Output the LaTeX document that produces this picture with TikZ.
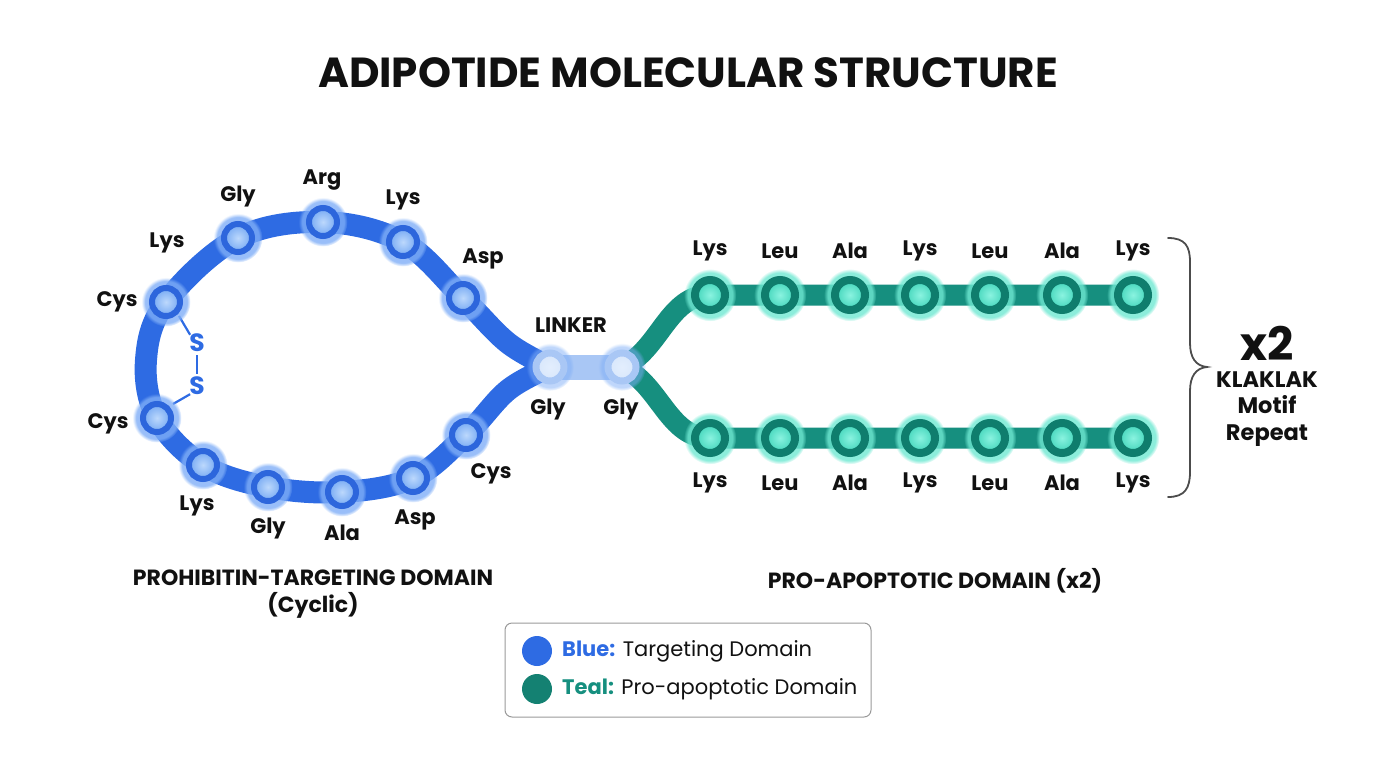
\documentclass[tikz,border=0pt]{standalone}
\usepackage{fontspec}
\setmainfont{Poppins}
\usetikzlibrary{shadows,calc}
\definecolor{bluec}{HTML}{2E6BE3}
\definecolor{bluering}{HTML}{2D66DC}
\definecolor{bluein}{HTML}{74A8F3}
\definecolor{blueinc}{HTML}{BCD8FC}
\definecolor{blueglow}{HTML}{7FAEF7}
\definecolor{linkc}{HTML}{A9C7F5}
\definecolor{linkin}{HTML}{E3EEFD}
\definecolor{tealc}{HTML}{168F7F}
\definecolor{tealring}{HTML}{0F7D6D}
\definecolor{tealin}{HTML}{3ED3B8}
\definecolor{tealinc}{HTML}{8AF3E0}
\definecolor{tealglow}{HTML}{6FE8D2}
\definecolor{ink}{HTML}{111111}
\begin{document}
\begin{tikzpicture}[x=1pt,y=-1pt,
  lbl/.style={font=\fontsize{21}{22}\selectfont\bfseries, text=ink, inner sep=0pt},
  bbead/.style={circle, minimum size=28pt, inner sep=0pt, draw=bluering, line width=6pt,
    inner color=blueinc, outer color=bluein,
    circular glow={fill=blueglow, shadow scale=1.75, opacity=0.8}},
  lbead/.style={circle, minimum size=28pt, inner sep=0pt, draw=linkc, line width=7pt,
    inner color=linkin, outer color=linkin!80!linkc,
    circular glow={fill=blueglow, shadow scale=1.7, opacity=0.5}},
  tbead/.style={circle, minimum size=30pt, inner sep=0pt, draw=tealring, line width=8pt,
    inner color=tealinc, outer color=tealin,
    circular glow={fill=tealglow, shadow scale=1.75, opacity=0.8}},
  bchain/.style={draw=bluec, line width=22pt, line cap=round, line join=round},
  tchain/.style={draw=tealc, line width=21pt, line cap=round},
  dom/.style={font=\fontsize{22}{27}\selectfont\bfseries, text=ink, align=center, inner sep=0pt},
  ssym/.style={font=\fontsize{25}{26}\selectfont\bfseries, text=bluec, inner sep=0pt},
  ssline/.style={draw=bluec, line width=2.2pt},
  legtext/.style={font=\fontsize{21}{24}\selectfont, text=ink, anchor=west, inner sep=0pt}
]
\useasboundingbox (0,0) rectangle (1376,768);

% title
\node[font=\fontsize{42}{48}\selectfont\bfseries, text=ink] (title) at (688,73) {ADIPOTIDE MOLECULAR STRUCTURE};

% coordinates for loop beads
\coordinate (pA1) at (463,298);
\coordinate (pL1) at (403,242);
\coordinate (pR) at (323,222);
\coordinate (pG1) at (238,238);
\coordinate (pC1) at (166,302);
\coordinate (pleft) at (146,360);
\coordinate (pC2) at (157,418);
\coordinate (pL2) at (203,465);
\coordinate (pG2) at (268,487);
\coordinate (pAl) at (342,492);
\coordinate (pA2) at (413,478);
\coordinate (pC3) at (466,435);
\coordinate (hup) at (508,343);
\coordinate (hdn) at (508,390);
\coordinate (pK1) at (550,367);
\coordinate (pK2) at (622,367);

% blue loop chain
\draw[bchain] plot[smooth, tension=0.6] coordinates {(pK1) (hup) (pA1) (pL1) (pR) (pG1) (pC1) (pleft) (pC2) (pL2) (pG2) (pAl) (pA2) (pC3) (hdn) (pK1)};

% teal rows
\foreach \i/\x in {1/710,2/780,3/850,4/920,5/990,6/1062,7/1133}{
  \coordinate (tu\i) at (\x,295);
  \coordinate (td\i) at (\x,438);
}
\draw[tchain] (pK2) .. controls (660,350) and (668,295) .. (tu1) -- (tu7);
\draw[tchain] (pK2) .. controls (660,384) and (668,438) .. (td1) -- (td7);

% linker
\draw[draw=linkc, line width=25pt] (pK1) -- (pK2);

% S-S bridge
\node[ssym] (s1) at (197,343) {S};
\node[ssym] (s2) at (197,386) {S};
\draw[ssline] ($(s1.south)+(0,3)$) -- ($(s2.north)+(0,-3)$);
\draw[ssline] (179,316) -- ($(s1.north west)+(1,1)$);
\draw[ssline] ($(s2.south west)+(1,-1)$) -- (173,404);

% beads
\node[bbead] (bA1) at (pA1) {};
\node[bbead] (bL1) at (pL1) {};
\node[bbead] (bR) at (pR) {};
\node[bbead] (bG1) at (pG1) {};
\node[bbead] (bC1) at (pC1) {};
\node[bbead] (bC2) at (pC2) {};
\node[bbead] (bL2) at (pL2) {};
\node[bbead] (bG2) at (pG2) {};
\node[bbead] (bAl) at (pAl) {};
\node[bbead] (bA2) at (pA2) {};
\node[bbead] (bC3) at (pC3) {};
\node[lbead] (k1) at (pK1) {};
\node[lbead] (k2) at (pK2) {};
\foreach \i in {1,...,7}{
  \node[tbead] (bu\i) at (tu\i) {};
  \node[tbead] (bd\i) at (td\i) {};
}

% loop labels
\node[lbl] at (167,243) {Lys};
\node[lbl] at (238,197) {Gly};
\node[lbl] at (322,180) {Arg};
\node[lbl] at (403,200) {Lys};
\node[lbl] at (483,259) {Asp};
\node[lbl] at (117,302) {Cys};
\node[lbl] at (108,424) {Cys};
\node[lbl] at (197,506) {Lys};
\node[lbl] at (268,529) {Gly};
\node[lbl] at (342,533) {Ala};
\node[lbl] at (415,520) {Asp};
\node[lbl] at (491,474) {Cys};

% linker labels
\node[lbl] at (571,325) {LINKER};
\node[lbl] at (548,410) {Gly};
\node[lbl] at (621,410) {Gly};

% teal labels
\foreach \i/\x/\t in {1/710/Lys,2/780/Leu,3/850/Ala,4/920/Lys,5/990/Leu,6/1062/Ala,7/1133/Lys}{
  \node[lbl] at (\x,251) {\t};
  \node[lbl] at (\x,483) {\t};
}

% brace
\coordinate (bt) at (1168,238);
\coordinate (btip) at (1207,367);
\coordinate (bb) at (1168,497);
\draw[draw=ink!75, line width=1.8pt, line cap=round]
  (bt) .. controls (1185,238) and (1190,246) .. (1190,262) -- (1190,343)
  .. controls (1190,358) and (1196,366) .. (btip)
  .. controls (1196,368) and (1190,376) .. (1190,391) -- (1190,472)
  .. controls (1190,488) and (1185,497) .. (bb);
\node[font=\fontsize{46}{50}\selectfont\bfseries, text=ink, inner sep=0pt] (x2) at (1267,343) {x2};
\node[font=\fontsize{22.5}{26.5}\selectfont\bfseries, text=ink, align=center, inner sep=0pt] (motif) at (1267,409) {KLAKLAK\\Motif\\Repeat};

% domain labels
\node[dom] (d1) at (313,594) {PROHIBITIN-TARGETING DOMAIN\\(Cyclic)};
\node[dom] (d2) at (935,581) {PRO-APOPTOTIC DOMAIN (x2)};

% legend
\draw[draw=black!40, line width=1pt, rounded corners=7pt] (505,623) rectangle (871,717);
\node[circle, fill=bluec, minimum size=30pt, inner sep=0pt] (lgb) at (537,651) {};
\node[circle, fill=tealc!90!black, minimum size=30pt, inner sep=0pt] (lgt) at (537,689) {};
\node[legtext] (lt1) at (562,651) {\textcolor{bluec}{\bfseries Blue:} Targeting Domain};
\node[legtext] (lt2) at (562,689) {\textcolor{tealc}{\bfseries Teal:} Pro-apoptotic Domain};
\end{tikzpicture}
\end{document}
